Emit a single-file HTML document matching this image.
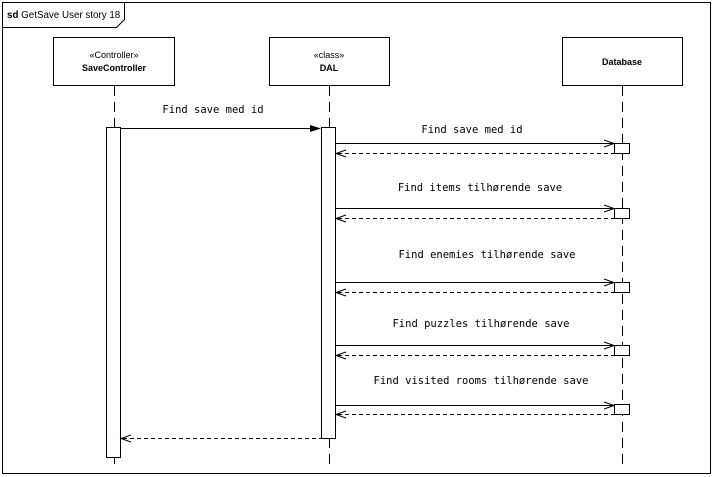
<!DOCTYPE html>
<html><head><meta charset="utf-8"><style>html,body{margin:0;padding:0;background:#fff}svg{display:block}</style></head>
<body>
<svg width="715" height="477" viewBox="0 0 715 477" xmlns="http://www.w3.org/2000/svg">
<rect x="0" y="0" width="715" height="477" fill="#fff"/>
<rect x="2.5" y="2.5" width="708" height="471" fill="none" stroke="#000" stroke-width="1"/>
<path d="M2.5 27.5 H116.5 L124.5 19.5 V2.5" fill="none" stroke="#000"/>
<text x="7" y="18" font-family="Liberation Sans, sans-serif" font-size="9.8" fill="#000"><tspan font-weight="bold">sd</tspan> GetSave User story 18</text>

<g font-family="Liberation Sans, sans-serif" font-size="9" text-anchor="middle" fill="#000">
<rect x="53.5" y="37.5" width="121" height="48" fill="#fff" stroke="#000"/>
<text x="114" y="58">«Controller»</text>
<text x="114" y="71" font-weight="bold">SaveController</text>
<rect x="269.5" y="37.5" width="120" height="48" fill="#fff" stroke="#000"/>
<text x="329" y="58">«class»</text>
<text x="329" y="71" font-weight="bold">DAL</text>
<rect x="562.5" y="37.5" width="120" height="48" fill="#fff" stroke="#000"/>
<text x="622" y="65" font-weight="bold">Database</text>
</g>

<g stroke="#000" stroke-dasharray="10,6" fill="none">
<line x1="114.5" y1="86" x2="114.5" y2="470"/>
<line x1="329.5" y1="86" x2="329.5" y2="470"/>
<line x1="622.5" y1="86" x2="622.5" y2="470"/>
</g>

<rect x="106.5" y="127.5" width="14" height="330" fill="#fff" stroke="#000"/>
<rect x="321.5" y="127.5" width="14" height="311" fill="#fff" stroke="#000"/>

<g font-family="DejaVu Sans Mono, Liberation Mono, monospace" font-size="10.5" text-anchor="middle" fill="#000">
<text x="213" y="113">Find save med id</text>
<text x="472" y="133">Find save med id</text>
<text x="480" y="191">Find items tilhørende save</text>
<text x="487" y="258">Find enemies tilhørende save</text>
<text x="481" y="327">Find puzzles tilhørende save</text>
<text x="481" y="384">Find visited rooms tilhørende save</text>
</g>

<line x1="121" y1="128.5" x2="312" y2="128.5" stroke="#000"/>
<polygon points="321,128.5 310,125 310,132" fill="#000"/>

<g stroke="#000" fill="none">
<line x1="336" y1="143.5" x2="614" y2="143.5"/><polyline points="604,140 614,143.5 604,147"/>
<line x1="338" y1="153.5" x2="614" y2="153.5" stroke-dasharray="4,3"/><polyline points="346,150 336,153.5 346,157"/>
<line x1="336" y1="208.5" x2="614" y2="208.5"/><polyline points="604,205 614,208.5 604,212"/>
<line x1="338" y1="218.5" x2="614" y2="218.5" stroke-dasharray="4,3"/><polyline points="346,215 336,218.5 346,222"/>
<line x1="336" y1="282.5" x2="614" y2="282.5"/><polyline points="604,279 614,282.5 604,286"/>
<line x1="338" y1="292.5" x2="614" y2="292.5" stroke-dasharray="4,3"/><polyline points="346,289 336,292.5 346,296"/>
<line x1="336" y1="345.5" x2="614" y2="345.5"/><polyline points="604,342 614,345.5 604,349"/>
<line x1="338" y1="355.5" x2="614" y2="355.5" stroke-dasharray="4,3"/><polyline points="346,352 336,355.5 346,359"/>
<line x1="336" y1="405.5" x2="614" y2="405.5"/><polyline points="604,402 614,405.5 604,409"/>
<line x1="338" y1="414.5" x2="614" y2="414.5" stroke-dasharray="4,3"/><polyline points="346,411 336,414.5 346,418"/>
<line x1="123" y1="438.5" x2="321" y2="438.5" stroke-dasharray="4,3"/><polyline points="131,435 121,438.5 131,442"/>
</g>

<g fill="#fff" stroke="#000">
<rect x="614.5" y="143.5" width="15" height="10"/>
<rect x="614.5" y="208.5" width="15" height="10"/>
<rect x="614.5" y="282.5" width="15" height="10"/>
<rect x="614.5" y="345.5" width="15" height="10"/>
<rect x="614.5" y="404.5" width="15" height="10"/>
</g>
</svg>
</body></html>
